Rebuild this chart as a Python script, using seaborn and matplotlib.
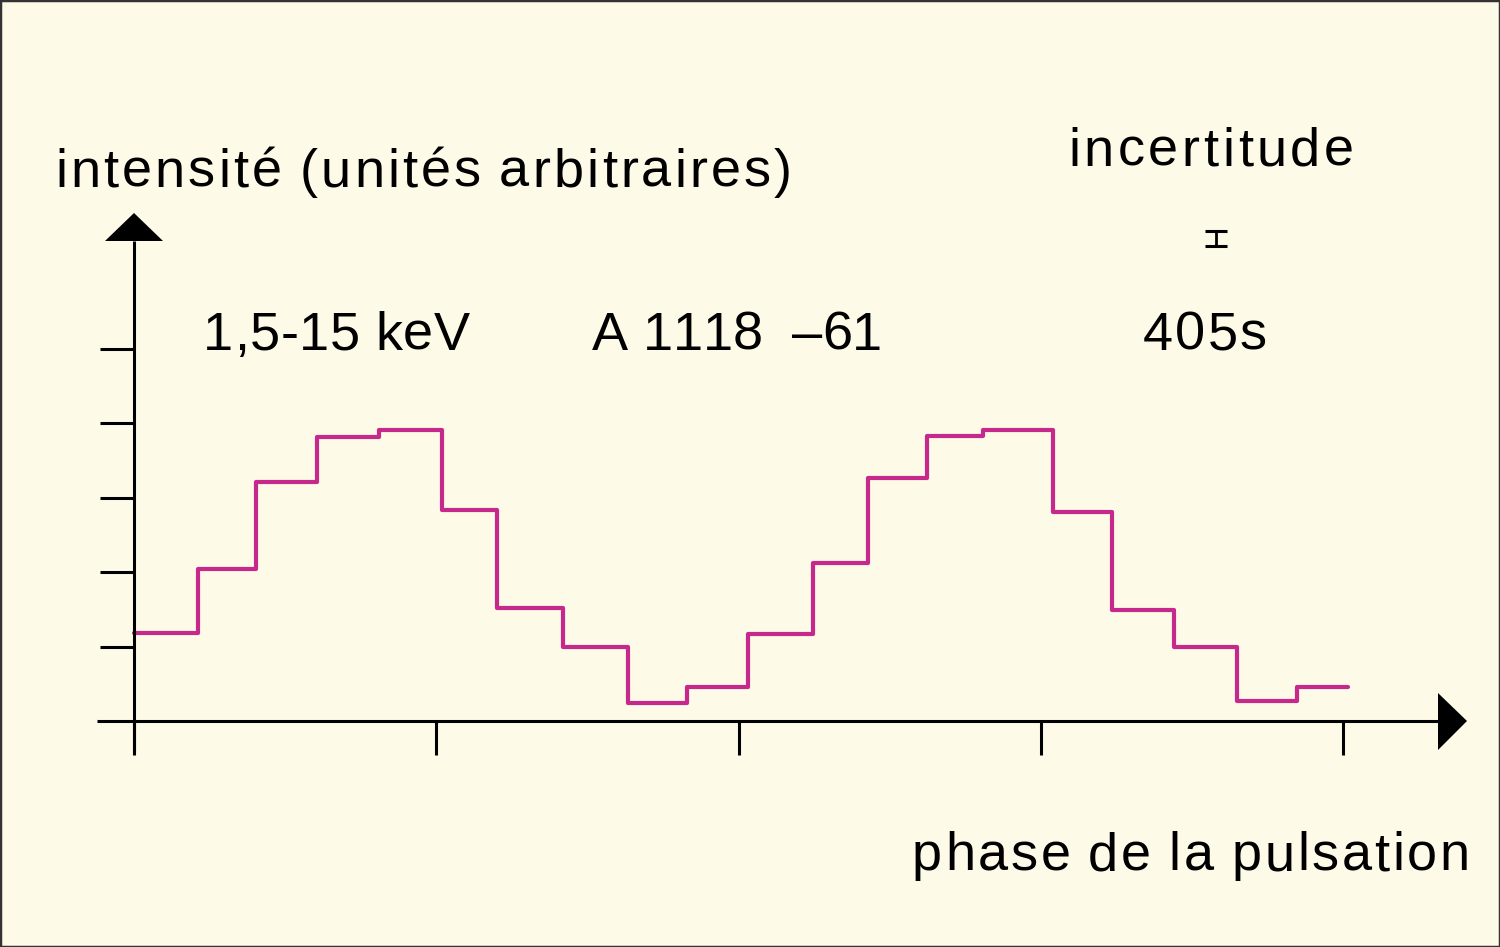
import matplotlib
matplotlib.use("Agg")
import matplotlib.pyplot as plt
import seaborn as sns
import pandas as pd
from matplotlib.patches import Polygon, Rectangle
from matplotlib import font_manager, ft2font

# ---- data ----
phase_edges = [0.0, 0.053, 0.101, 0.151, 0.203, 0.255, 0.300, 0.355, 0.409, 0.457,
               0.508, 0.562, 0.607, 0.656, 0.702, 0.760, 0.809, 0.860, 0.912, 0.962, 1.004]
intensity = [1.18, 2.04, 3.21, 3.82, 3.91, 2.84, 1.52, 0.99, 0.24, 0.46,
             1.17, 2.12, 3.27, 3.83, 3.91, 2.81, 1.49, 0.99, 0.27, 0.46]
x_ticks = [0.0, 0.25, 0.5, 0.75, 1.0]
y_ticks = [1, 2, 3, 4, 5]
y_label = "intensité (unités arbitraires)"
x_label = "phase de la pulsation"
energy_label = "1,5-15 keV"
source_label = "A 1118  \u201361"
period_label = "405s"
uncert_label = "incertitude"
uncert_half = 0.1

sns.set_theme(style="white")
plt.rcParams["font.family"] = ["Liberation Sans", "DejaVu Sans"]

BG = "#FEFAE8"
PINK = "#C6288B"
W, H = 1500, 947
DPI = 100
fig = plt.figure(figsize=(15, 9.47), dpi=DPI, facecolor=BG)
ax = fig.add_axes([0, 0, 1, 1])
ax.set_facecolor(BG)

# pixel mapping for layout: phase 0 at px 134, phase 1 at px 1343; intensity 0 at py 721, 1 unit = 74.4 px
X0, XS = 134, 1209
Y0, YS = 721, 74.4
def dx(px): return (px - X0) / XS
def dy(py): return (Y0 - py) / YS

ax.set_xlim(dx(0), dx(W))
ax.set_ylim(dy(H), dy(0))
for s in ax.spines.values():
    s.set_visible(False)
ax.set_xticks([]); ax.set_yticks([])

# step curve
df = pd.DataFrame({"phase": phase_edges, "intensity": intensity + [intensity[-1]]})
sns.lineplot(data=df, x="phase", y="intensity", drawstyle="steps-post",
             color=PINK, linewidth=3.0, ax=ax, estimator=None, sort=False)
ax.set_xlabel(""); ax.set_ylabel("")

AX_LW = 2.2
ax.plot([dx(97), dx(1440)], [0, 0], color="black", lw=AX_LW, solid_capstyle="butt")
ax.plot([0, 0], [dy(752), dy(241)], color="black", lw=AX_LW, solid_capstyle="butt")
ax.add_patch(Polygon([[dx(105), dy(241)], [dx(163), dy(241)], [dx(134), dy(213)]],
                     closed=True, color="black", lw=0))
ax.add_patch(Polygon([[dx(1438), dy(693)], [dx(1438), dy(750)], [dx(1467), dy(721)]],
                     closed=True, color="black", lw=0))
for t in x_ticks:
    ax.plot([t, t], [0, dy(755)], color="black", lw=AX_LW, solid_capstyle="butt")
for t in y_ticks:
    ax.plot([dx(100), 0], [t, t], color="black", lw=AX_LW, solid_capstyle="butt")

# ---- tracked (letter-spaced) text ----
FS = 39
fp = font_manager.FontProperties(family="Liberation Sans")
ftfont = ft2font.FT2Font(font_manager.findfont(fp))
ftfont.set_size(FS, DPI)

def adv(ch):
    g = ftfont.load_char(ord(ch))
    return g.linearHoriAdvance / 65536.0

def tracked(s, left, right, baseline):
    widths = [adv(c) for c in s]
    natural = sum(widths)
    n_gaps = sum(1 for c in s[:-1] if c != " ")
    track = (right - left - natural) / max(n_gaps, 1)
    x = left
    for c, w in zip(s, widths):
        if c != " ":
            ax.text(dx(x), dy(baseline), c, fontsize=FS, color="black",
                    ha="left", va="baseline")
            x += w + track
        else:
            x += w

tracked(y_label, 55, 792, 187)
tracked(uncert_label, 1068, 1354, 166)
tracked(energy_label, 203, 470, 350)
tracked(source_label, 592, 882, 350)
tracked(period_label, 1143, 1267, 350)
tracked(x_label, 912, 1470, 870)

# uncertainty bar
ux, uy = dx(1216), dy(238.5)
ax.errorbar([ux], [uy], yerr=[uncert_half], color="black", lw=2, capsize=8, capthick=2.2)

fig.patches.append(Rectangle((0, 0), 1, 1, transform=fig.transFigure, fill=False,
                             edgecolor="#333333", lw=2.5))

fig.savefig("out.png", dpi=DPI, facecolor=BG)
